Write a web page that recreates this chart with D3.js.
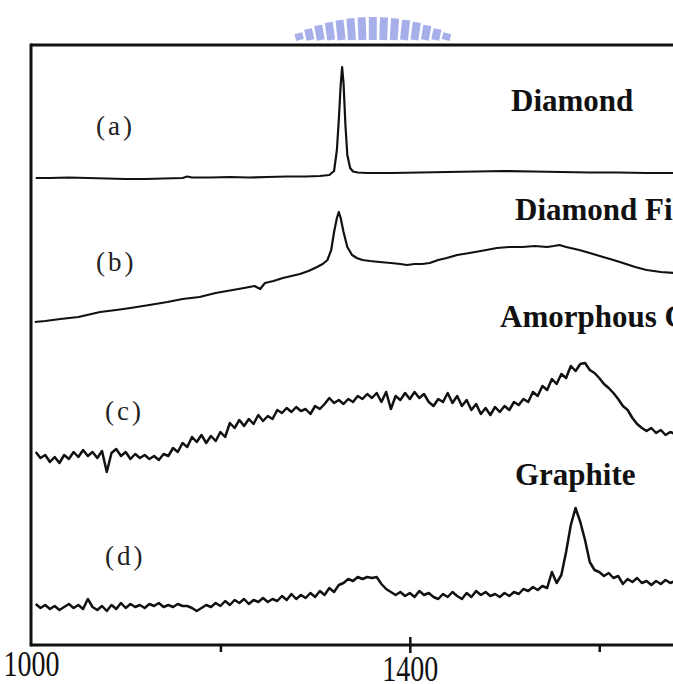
<!DOCTYPE html>
<html>
<head>
<meta charset="utf-8">
<script src="https://cdn.jsdelivr.net/npm/d3@7"></script>
<style>
  body { margin: 0; background: #fff; }
  svg { display: block; }
</style>
</head>
<body>
<div id="chart"></div>
<script>
// Raman spectra, stacked (arbitrary intensity units incl. offset)
var waveA = [1005, 1020, 1040, 1060, 1080, 1100, 1120, 1140, 1160, 1165, 1170, 1190, 1210, 1230, 1250, 1270, 1290, 1305, 1315, 1320, 1323, 1325, 1327, 1328.5, 1330, 1332, 1334, 1337, 1340, 1345, 1355, 1380, 1410, 1440, 1470, 1500, 1530, 1560, 1590, 1620, 1650, 1680];
var intensityA = [467, 467, 467.5, 467, 466.5, 466, 466, 466.5, 467, 468.5, 467.5, 467.5, 468, 467.5, 468, 468.5, 468.5, 469, 470, 474, 495, 525, 560, 578, 562, 520, 490, 477, 473.5, 472.5, 472, 472, 472.5, 473, 473.5, 474, 473.5, 473, 472.5, 472.5, 472, 472];

var waveB = [1004, 1015, 1031, 1050, 1073, 1090, 1105, 1125, 1144, 1160, 1178, 1195, 1213, 1225, 1236, 1242, 1247, 1256, 1266, 1275, 1284, 1293, 1302, 1308, 1313, 1317, 1320, 1323, 1325, 1327, 1330, 1334, 1339, 1344, 1350, 1358, 1368, 1380, 1390, 1397, 1405, 1413, 1421, 1430, 1439, 1450, 1463, 1475, 1492, 1505, 1519, 1532, 1545, 1552, 1558, 1565, 1579, 1590, 1604, 1615, 1625, 1638, 1650, 1665, 1680];
var intensityB = [323, 324, 326, 328, 333, 335, 337, 340, 343, 346, 348, 352, 355, 357, 359, 356, 362, 364, 367, 369, 371, 374, 378, 381, 385, 395, 413, 427, 433, 427, 413, 398, 390, 387, 385, 384, 383, 382, 381, 380, 381, 381, 382, 385, 387, 390, 392, 394, 397, 398, 398, 399, 398, 399, 400, 398, 395, 392, 388, 385, 382, 378, 375, 373, 372];

// (c) and (d) are sampled every 5 cm-1 from 1005 to 1680
var waveCD = d3.range(1005, 1681, 5);
var intensityC = [
  193,187,190,183,188,182,190,186,193,188,
  195,189,193,187,194,173,192,196,189,193,
  186,191,187,190,186,189,185,191,189,197,
  193,202,198,208,203,210,202,209,204,213,
  208,222,217,225,219,226,221,230,224,229,
  226,235,232,237,233,238,234,236,231,239,
  236,241,247,242,245,241,246,243,249,246,
  251,247,252,243,253,236,249,245,252,246,
  253,247,251,243,239,246,243,252,242,249,
  239,245,235,241,231,237,230,238,233,239,
  235,243,240,246,243,253,249,259,255,266,
  261,271,267,279,274,281,282,275,272,267,
  261,257,252,246,239,235,227,221,217,214,
  217,212,215,210,213,211];
var intensityD = [
  41,37,40,36,39,35,38,41,37,40,
  36,46,38,35,39,34,40,36,42,37,
  41,38,40,37,41,39,42,38,40,38,
  41,39,39,37,34,37,40,38,42,39,
  44,40,45,42,46,41,45,43,47,43,
  46,44,49,45,51,46,50,47,52,48,
  54,50,57,53,60,62,66,64,68,66,
  68,67,68,61,56,53,50,53,49,52,
  48,54,50,52,48,46,51,48,53,49,
  46,52,48,54,50,53,49,51,48,52,
  49,53,51,56,54,58,55,59,57,73,
  62,70,93,120,137,123,105,83,75,73,
  69,72,67,69,61,66,63,67,62,64,
  60,64,61,65,62,64];

var sampleLabels = ["(a)", "(b)", "(c)", "(d)"];
var sampleLevels = [510, 374, 225, 80];          // label heights in intensity units
var materialNames = ["Diamond", "Diamond Film", "Amorphous Carbon", "Graphite"];
var materialLevels = [534, 425, 318, 160];
var tickValues = [1000, 1200, 1400, 1600];
var tickLabels = ["1000", "", "1400", ""];

var svgwidth = 673;
var svgheight = 684;
var margin = {top: 45, left: 31, bottom: 39};

var svg = d3.select("#chart").append("svg")
    .attr("width", svgwidth).attr("height", svgheight);

var x = d3.scaleLinear().domain([1000, 1680]).range([margin.left, 675]);
var y = d3.scaleLinear().domain([0, 600]).range([svgheight - margin.bottom, margin.top]);

// faint watermark logo at the top
var wm = svg.append("g").attr("fill", "#98a2e8").attr("opacity", 0.85);
d3.range(15).forEach(function(i) {
    var t = (i - 7) / 7;
    var top = 17 + 16 * t * t;
    wm.append("rect")
        .attr("x", 296 + i * 10.4)
        .attr("y", top)
        .attr("width", 8)
        .attr("height", 40 - top)
        .attr("transform", "rotate(" + (t * 14) + "," + (300 + i * 10.4) + ",40)");
});

// frame: top, left, bottom axis
svg.append("line").attr("x1", margin.left).attr("x2", svgwidth)
    .attr("y1", margin.top).attr("y2", margin.top)
    .attr("stroke", "#111").attr("stroke-width", 3);
svg.append("line").attr("x1", margin.left).attr("x2", margin.left)
    .attr("y1", margin.top - 1.5).attr("y2", y(0) + 1.5)
    .attr("stroke", "#111").attr("stroke-width", 3);

var bottomAxis = d3.axisBottom(x).tickValues(tickValues).tickSize(0).tickFormat("");
var axisG = svg.append("g").attr("transform", "translate(0," + y(0) + ")").call(bottomAxis);
axisG.select(".domain").remove();
axisG.append("line").attr("x1", margin.left).attr("x2", svgwidth)
    .attr("stroke", "#111").attr("stroke-width", 3);
axisG.selectAll(".tick").append("line")
    .attr("y1", function(d, i) { return i % 2 == 0 ? -8 : 0; })
    .attr("y2", function(d, i) { return i % 2 == 0 ? 8 : 7; })
    .attr("stroke", "#111").attr("stroke-width", 2.5)
    .style("display", function(d) { return d == 1000 ? "none" : null; });
axisG.selectAll(".tick").append("text")
    .text(function(d, i) { return tickLabels[i]; })
    .attr("fill", "#111")
    .attr("font-family", "Liberation Serif, serif")
    .attr("font-size", 28)
    .attr("text-anchor", "middle")
    .attr("transform", function(d) { return "translate(0," + (d == 1400 ? 36 : 31) + ") scale(1,1.25)"; });

// spectra
var line = d3.line().x(d => x(d[0])).y(d => y(d[1]));
var spectra = [
    {w: waveA, v: intensityA, sw: 2.2},
    {w: waveB, v: intensityB, sw: 2.2},
    {w: waveCD, v: intensityC, sw: 2.5},
    {w: waveCD, v: intensityD, sw: 2.5}
];
spectra.forEach(function(s) {
    svg.append("path")
        .datum(d3.zip(s.w, s.v))
        .attr("fill", "none")
        .attr("stroke", "#111")
        .attr("stroke-width", s.sw)
        .attr("stroke-linejoin", "round")
        .attr("d", line);
});

// labels
svg.selectAll(".sample").data(sampleLabels).enter().append("text")
    .attr("class", "sample")
    .attr("x", (d, i) => i < 2 ? 96 : 105)
    .attr("y", (d, i) => y(sampleLevels[i]))
    .attr("font-family", "Liberation Serif, serif")
    .attr("font-size", 27)
    .attr("letter-spacing", 3)
    .attr("fill", "#222")
    .text(d => d);

svg.selectAll(".material").data(materialNames).enter().append("text")
    .attr("class", "material")
    .attr("x", (d, i) => [511, 515, 500, 515][i])
    .attr("y", (d, i) => y(materialLevels[i]))
    .attr("font-family", "Liberation Serif, serif")
    .attr("font-weight", "bold")
    .attr("font-size", 31)
    .attr("fill", "#111")
    .text(d => d);
</script>
</body>
</html>
